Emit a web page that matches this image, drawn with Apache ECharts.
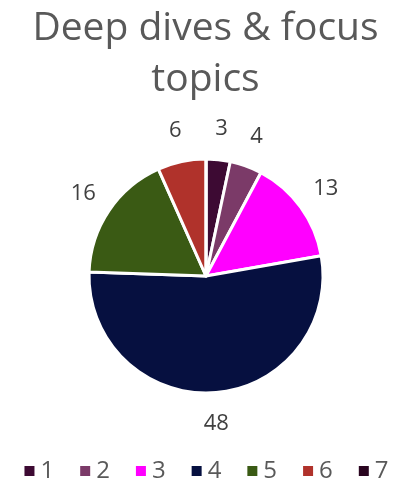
<!DOCTYPE html>
<html>
<head>
<meta charset="utf-8">
<script src="https://cdn.jsdelivr.net/npm/echarts@6/dist/echarts.min.js"></script>
<style>
  html, body { margin: 0; padding: 0; background: #fff; }
  #chart { width: 411px; height: 479px; }
</style>
</head>
<body>
<div id="chart"></div>
<script>
// Topic categories and how many deep dives each received
const categories = ['1', '2', '3', '4', '5', '6', '7'];
const values = [3, 4, 13, 48, 16, 6, 0];
const colors = ['#3d0a33', '#7b3a68', '#ff00ff', '#061040', '#3a5a14', '#b0322b', '#2a0520'];

const FONT = '"Open Sans", "Noto Sans", sans-serif';
const CENTER = [206, 276];

const chart = echarts.init(document.getElementById('chart'));

const sliceData = categories.map((name, i) => ({
  name: name, value: values[i], itemStyle: { color: colors[i] }
}));

// Same values on a transparent outer ring, so each value label sits
// centred on its slice's bisector just outside the pie.
const labelData = categories.map((name, i) => {
  const item = { name: name, value: values[i] };
  if (values[i] === 0) item.label = { show: false };
  return item;
});

chart.setOption({
  animation: false,
  title: {
    text: 'Deep dives & focus\ntopics',
    left: 'center',
    top: -2,
    textStyle: {
      fontFamily: FONT,
      fontSize: 39,
      fontWeight: 'normal',
      color: '#595959',
      lineHeight: 51
    }
  },
  legend: {
    top: 454,
    left: 'center',
    icon: 'rect',
    itemWidth: 12,
    itemHeight: 12,
    itemGap: 24,
    textStyle: { fontFamily: FONT, fontSize: 24, color: '#595959' },
    data: categories
  },
  series: [{
    type: 'pie',
    center: CENTER,
    radius: 117,
    startAngle: 90,
    clockwise: true,
    itemStyle: { borderColor: '#fff', borderWidth: 3 },
    label: { show: false },
    labelLine: { show: false },
    data: sliceData
  }, {
    type: 'pie',
    center: CENTER,
    radius: [135, 155],
    startAngle: 90,
    clockwise: true,
    silent: true,
    legendHoverLink: false,
    itemStyle: { color: 'rgba(0,0,0,0)', borderWidth: 0 },
    label: {
      show: true,
      position: 'inside',
      formatter: '{c}',
      fontFamily: FONT,
      fontSize: 22,
      color: '#404040'
    },
    labelLine: { show: false },
    data: labelData
  }]
});
</script>
</body>
</html>
